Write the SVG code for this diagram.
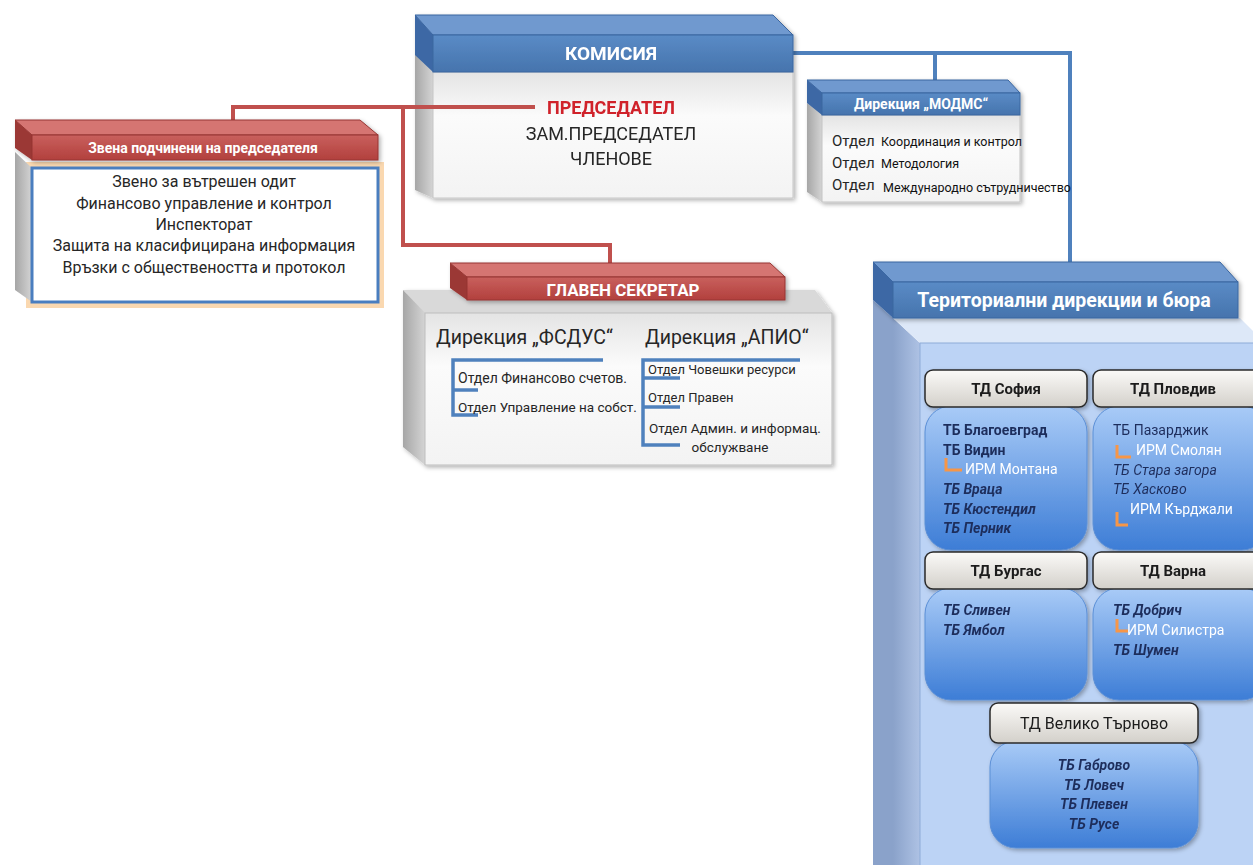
<svg xmlns="http://www.w3.org/2000/svg" width="1253" height="865" viewBox="0 0 1253 865">
<defs>
<linearGradient id="grayFace" x1="0" y1="0" x2="0" y2="1"><stop offset="0" stop-color="#e4e4e4"/><stop offset="0.35" stop-color="#fbfbfb"/><stop offset="1" stop-color="#f3f3f3"/></linearGradient>
<linearGradient id="graySide" x1="0" y1="0" x2="1" y2="0"><stop offset="0" stop-color="#a6a6a6"/><stop offset="1" stop-color="#d4d4d4"/></linearGradient>
<linearGradient id="blueFront" x1="0" y1="0" x2="0" y2="1"><stop offset="0" stop-color="#5a8bc6"/><stop offset="1" stop-color="#4674ad"/></linearGradient>
<linearGradient id="redFront" x1="0" y1="0" x2="0" y2="1"><stop offset="0" stop-color="#c9605d"/><stop offset="1" stop-color="#b2403d"/></linearGradient>
<linearGradient id="tbBody" x1="0" y1="0" x2="0" y2="1"><stop offset="0" stop-color="#a9cbf7"/><stop offset="1" stop-color="#3d7dd6"/></linearGradient>
<linearGradient id="tdHead" x1="0" y1="0" x2="0" y2="1"><stop offset="0" stop-color="#fbfaf8"/><stop offset="1" stop-color="#d3d0ca"/></linearGradient>
<linearGradient id="terrSide" x1="0" y1="0" x2="1" y2="0"><stop offset="0" stop-color="#8aa2ca"/><stop offset="1" stop-color="#aec2e4"/></linearGradient>
<filter id="sh" x="-10%" y="-10%" width="130%" height="130%"><feDropShadow dx="2" dy="2" stdDeviation="2" flood-color="#000" flood-opacity="0.3"/></filter>
</defs>
<style>
text{font-family:Roboto,"Noto Sans","DejaVu Sans",sans-serif}
.hw{fill:#fff;font-weight:bold;text-anchor:middle}
.c{text-anchor:middle}
.dk{fill:#262626}
.tb{fill:#1f2d5c;font-size:14px}
.bi{font-style:italic;font-weight:bold}
.irm{fill:#fff;font-size:14px}
.ol{fill:none;stroke:#f79646;stroke-width:3}
.br{fill:none;stroke:#4f81bd;stroke-width:3.5}
.bTop{fill:#7099cf;stroke:#3a66a0;stroke-width:1}
.bSide{fill:#3c68a5}
.rTop{fill:#d57572;stroke:#963532;stroke-width:1}
.rSide{fill:#9b3835}
.tdh{fill:url(#tdHead);stroke:#2a2a2a;stroke-width:1.5}
.tbb{fill:url(#tbBody);stroke:#5b8fd6;stroke-width:1}
</style>

<g id="connectors" fill="none">
<polyline points="793,53 1070,53 1070,264" stroke="#4f81bd" stroke-width="4"/>
<line x1="935" y1="53" x2="935" y2="82" stroke="#4f81bd" stroke-width="4"/>
</g>

<g id="komisia" filter="url(#sh)">
<polygon points="415,52 433,72 433,198 415,190" fill="url(#graySide)"/>
<rect x="433" y="72" width="360" height="126" fill="url(#grayFace)" stroke="#c6c6c6"/>
<polygon class="bTop" points="415,15 773,15 793,35 433,35"/>
<polygon class="bSide" points="415,15 433,35 433,72 415,55"/>
<rect x="433" y="35" width="360" height="37" fill="url(#blueFront)" stroke="#3a66a0"/>
<text class="hw" x="611" y="60" font-size="19">КОМИСИЯ</text>
<text x="611" y="114" font-size="18" font-weight="bold" fill="#d0202a" class="c">ПРЕДСЕДАТЕЛ</text>
<text x="611" y="140" font-size="18" class="c dk">ЗАМ.ПРЕДСЕДАТЕЛ</text>
<text x="611" y="165" font-size="18" class="c dk">ЧЛЕНОВЕ</text>
</g>

<g id="red-connectors" fill="none" stroke="#c0504d" stroke-width="4">
<polyline points="535,107 233,107 233,122"/>
<polyline points="403,107 403,245 610,245 610,265"/>
</g>

<g id="zvena">
<rect x="29" y="165" width="352" height="140" fill="none" stroke="#f8c88f" stroke-width="6" opacity="0.7"/>
<polygon points="15,152 32,168 32,302 15,290" fill="url(#graySide)"/>
<rect x="32" y="168" width="346" height="134" fill="#fff" stroke="#4a7ebf" stroke-width="3"/>
<g filter="url(#sh)">
<polygon class="rTop" points="15,120 360,120 378,135 32,135"/>
<polygon class="rSide" points="15,120 32,135 32,160 15,148"/>
<rect x="32" y="135" width="346" height="25" fill="url(#redFront)" stroke="#963532"/>
</g>
<text class="hw" x="203" y="153" font-size="14">Звена подчинени на председателя</text>
<text class="c dk" x="204" y="187" font-size="16">Звено за вътрешен  одит</text>
<text class="c dk" x="204" y="209" font-size="16">Финансово управление и контрол</text>
<text class="c dk" x="204" y="230" font-size="16">Инспекторат</text>
<text class="c dk" x="204" y="251" font-size="16">Защита на класифицирана информация</text>
<text class="c dk" x="204" y="273" font-size="16">Връзки с обществеността и протокол</text>
</g>

<g id="glaven-sekretar">
<g filter="url(#sh)">
<polygon points="403,290 815,290 832,313 425,313" fill="#d9d9d9"/>
<polygon points="403,290 425,313 425,465 403,447" fill="url(#graySide)"/>
<rect x="425" y="313" width="407" height="152" fill="url(#grayFace)" stroke="#bdbdbd"/>
</g>
<g filter="url(#sh)">
<polygon class="rTop" points="450,263 770,263 785,277 467,277"/>
<polygon class="rSide" points="450,263 467,277 467,300 450,288"/>
<rect x="467" y="277" width="318" height="23" fill="url(#redFront)" stroke="#963532"/>
</g>
<text class="hw" x="623" y="296" font-size="17">ГЛАВЕН СЕКРЕТАР</text>
<text class="dk" x="436" y="344" font-size="19.5">Дирекция „ФСДУС“</text>
<text class="dk" x="645" y="344" font-size="19.5">Дирекция „АПИО“</text>
<polyline class="br" points="603,360 453,360 453,415 478,415"/>
<line class="br" x1="453" y1="390" x2="478" y2="390"/>
<text class="dk" x="458" y="383" font-size="14">Отдел Финансово счетов.</text>
<text class="dk" x="458" y="412" font-size="13.5">Отдел Управление на собст.</text>
<polyline class="br" points="800,360 643,360 643,445 680,445"/>
<line class="br" x1="643" y1="378" x2="680" y2="378"/>
<line class="br" x1="643" y1="407" x2="680" y2="407"/>
<text class="dk" x="648" y="374" font-size="13">Отдел Човешки ресурси</text>
<text class="dk" x="648" y="402" font-size="13">Отдел Правен</text>
<text class="dk" x="649" y="433" font-size="13.5">Отдел Админ. и информац.</text>
<text class="c dk" x="730" y="452" font-size="13.5">обслужване</text>
</g>

<g id="modms">
<g filter="url(#sh)">
<polygon points="807,103 822,115 822,202 807,192" fill="url(#graySide)"/>
<rect x="822" y="115" width="198" height="87" fill="url(#grayFace)" stroke="#c3c3c3"/>
<polygon class="bTop" points="807,80 1008,80 1020,93 822,93"/>
<polygon class="bSide" points="807,80 822,93 822,115 807,103"/>
<rect x="822" y="93" width="198" height="22" fill="url(#blueFront)" stroke="#3a66a0"/>
</g>
<text class="hw" x="921" y="109" font-size="14">Дирекция „МОДМС“</text>
<text class="dk" x="832" y="146" font-size="15">Отдел</text>
<text class="dk" x="832" y="168" font-size="15">Отдел</text>
<text class="dk" x="832" y="190" font-size="15">Отдел</text>
<text fill="#111" x="881" y="146" font-size="12.5">Координация и контрол</text>
<text fill="#111" x="881" y="168" font-size="12.5">Методология</text>
<text fill="#111" x="883" y="192" font-size="12.5">Международно сътрудничество</text>
</g>

<g id="teritorialni">
<polygon points="873,300 893,318 893,865 873,865" fill="#8aa2ca"/>
<polygon points="893,318 920,343 920,865 893,865" fill="url(#terrSide)"/>
<polygon points="893,318 1240,318 1253,331 1253,343 920,343" fill="#dde8f8"/>
<rect x="920" y="343" width="340" height="530" fill="#bcd3f5" stroke="#8eacd8"/>
<g filter="url(#sh)">
<polygon class="bTop" points="873,262 1220,262 1238,282 893,282"/>
<polygon class="bSide" points="873,262 893,282 893,318 873,300"/>
<rect x="893" y="282" width="345" height="36" fill="url(#blueFront)" stroke="#3a66a0"/>
</g>
<text class="hw" x="1064" y="307" font-size="19.5">Териториални дирекции и бюра</text>
</g>

<g id="td-sofia" filter="url(#sh)">
<rect class="tbb" x="925" y="406" width="162" height="144" rx="26"/>
<rect class="tdh" x="925" y="370" width="162" height="37" rx="8"/>
<text x="1006" y="394" font-size="15" font-weight="bold" fill="#1a1a1a" class="c">ТД София</text>
<text class="tb" x="943" y="435" font-weight="bold">ТБ  Благоевград</text>
<text class="tb" x="943" y="455" font-weight="bold">ТБ  Видин</text>
<path class="ol" d="M946,458 V470 H962"/>
<text class="irm" x="965" y="474">ИРМ Монтана</text>
<text class="tb bi" x="943" y="494">ТБ Враца</text>
<text class="tb bi" x="943" y="514">ТБ Кюстендил</text>
<text class="tb bi" x="943" y="533">ТБ Перник</text>
</g>

<g id="td-plovdiv" filter="url(#sh)">
<rect class="tbb" x="1093" y="406" width="175" height="144" rx="26"/>
<rect class="tdh" x="1093" y="370" width="175" height="37" rx="8"/>
<text x="1173" y="394" font-size="15" font-weight="bold" fill="#1a1a1a" class="c">ТД Пловдив</text>
<text class="tb" x="1113" y="435">ТБ Пазарджик</text>
<path class="ol" d="M1117,445 V457 H1131"/>
<text class="irm" x="1136" y="455">ИРМ Смолян</text>
<text class="tb" x="1113" y="475" font-style="italic">ТБ Стара загора</text>
<text class="tb" x="1113" y="494" font-style="italic">ТБ Хасково</text>
<path class="ol" d="M1117,512 V525 H1128"/>
<text class="irm" x="1130" y="514">ИРМ Кърджали</text>
</g>

<g id="td-burgas" filter="url(#sh)">
<rect class="tbb" x="925" y="588" width="162" height="112" rx="26"/>
<rect class="tdh" x="925" y="552" width="162" height="37" rx="8"/>
<text x="1006" y="576" font-size="15" font-weight="bold" fill="#1a1a1a" class="c">ТД Бургас</text>
<text class="tb bi" x="943" y="615">ТБ Сливен</text>
<text class="tb bi" x="943" y="635">ТБ Ямбол</text>
</g>

<g id="td-varna" filter="url(#sh)">
<rect class="tbb" x="1093" y="588" width="175" height="112" rx="26"/>
<rect class="tdh" x="1093" y="552" width="175" height="37" rx="8"/>
<text x="1173" y="576" font-size="15" font-weight="bold" fill="#1a1a1a" class="c">ТД Варна</text>
<text class="tb bi" x="1113" y="615">ТБ Добрич</text>
<path class="ol" d="M1117,619 V631 H1128"/>
<text class="irm" x="1127" y="635">ИРМ Силистра</text>
<text class="tb bi" x="1113" y="655">ТБ Шумен</text>
</g>

<g id="td-veliko-tarnovo" filter="url(#sh)">
<rect class="tbb" x="990" y="741" width="208" height="107" rx="26"/>
<rect class="tdh" x="990" y="703" width="208" height="40" rx="8"/>
<text x="1094" y="729" font-size="16" fill="#1a1a1a" class="c">ТД Велико Търново</text>
<text class="tb bi c" x="1094" y="770">ТБ Габрово</text>
<text class="tb bi c" x="1094" y="790">ТБ Ловеч</text>
<text class="tb bi c" x="1094" y="809">ТБ Плевен</text>
<text class="tb bi c" x="1094" y="829">ТБ Русе</text>
</g>
</svg>
